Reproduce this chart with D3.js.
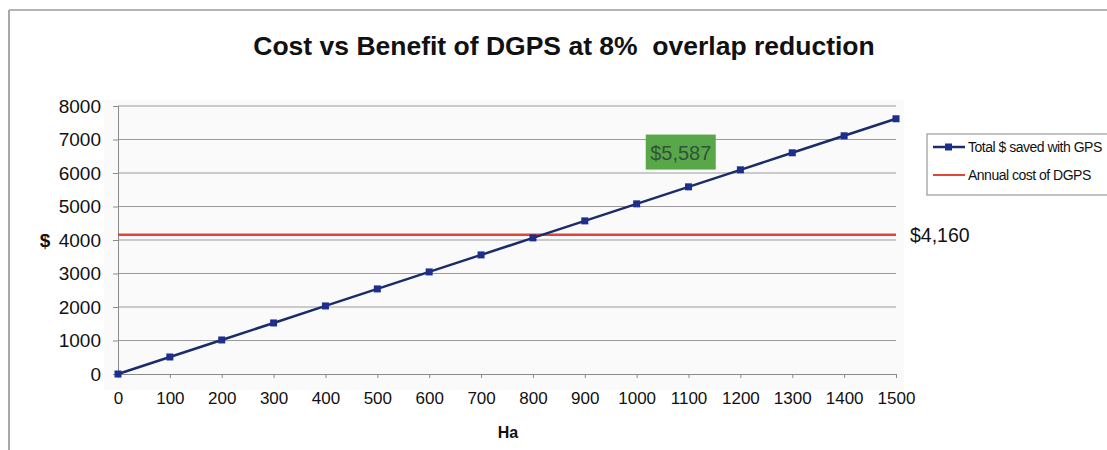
<!DOCTYPE html>
<html><head><meta charset="utf-8">
<script src="https://cdn.jsdelivr.net/npm/d3@7/dist/d3.min.js"></script>
<style>
html,body{margin:0;padding:0;background:#fff;}
svg{display:block;font-family:"Liberation Sans",Arial,sans-serif;}
</style></head>
<body><svg id="c" width="1107" height="450"></svg>
<script>
const hectares = [0,100,200,300,400,500,600,700,800,900,1000,1100,1200,1300,1400,1500];
const savedWithGPS = [0,508,1016,1524,2032,2540,3047,3555,4063,4571,5079,5587,6095,6603,7111,7619];
const annualCostDGPS = 4160;
const yTicks = [0,1000,2000,3000,4000,5000,6000,7000,8000];
const xTicks = hectares;
const titleText = "Cost vs Benefit of DGPS at 8%  overlap reduction";
const seriesNames = ["Total $ saved with GPS","Annual cost of DGPS"];
const costLabel = "$4,160";
const highlightLabel = "$5,587";

const svg = d3.select("#c");
const x = d3.scaleLinear().domain([0,1500]).range([118,896]);
const y = d3.scaleLinear().domain([0,8000]).range([374,106]);

// outer frame
svg.append("line").attr("x1",9).attr("x2",1107).attr("y1",10).attr("y2",10).attr("stroke","#b4b4b4").attr("stroke-width",2);
svg.append("line").attr("x1",9).attr("x2",9).attr("y1",10).attr("y2",450).attr("stroke","#a8a8a8").attr("stroke-width",2);

// plot background
svg.append("rect").attr("x",104).attr("y",100).attr("width",800).attr("height",290).attr("fill","#fafafa");

// title
svg.append("text").attr("x",564).attr("y",55).attr("text-anchor","middle")
  .attr("font-size",26.5).attr("font-weight","bold").attr("fill","#111").attr("xml:space","preserve").text(titleText);

// grid
svg.append("g").selectAll("line").data(yTicks.filter(d=>d>0)).join("line")
  .attr("x1",x(0)).attr("x2",x(1500)).attr("y1",d=>y(d)).attr("y2",d=>y(d))
  .attr("stroke","#9a9a9a").attr("stroke-width",1);

// y axis
const yAxis = svg.append("g").attr("transform",`translate(${x(0)},0)`)
  .call(d3.axisLeft(y).tickValues(yTicks).tickSize(5).tickPadding(12).tickFormat(d3.format("d")));
yAxis.select(".domain").attr("stroke","#8a8a8a");
yAxis.selectAll(".tick line").attr("stroke","#8a8a8a");
yAxis.selectAll("text").attr("font-size",19).attr("fill","#111").attr("font-family","Liberation Sans, Arial, sans-serif");

// x axis
const xAxis = svg.append("g").attr("transform",`translate(0,${y(0)})`)
  .call(d3.axisBottom(x).tickValues(xTicks).tickSize(4).tickPadding(14).tickFormat(d3.format("d")));
xAxis.select(".domain").attr("stroke","#8a8a8a");
xAxis.selectAll(".tick line").attr("stroke","#8a8a8a");
xAxis.selectAll("text").attr("font-size",17).attr("fill","#111").attr("font-family","Liberation Sans, Arial, sans-serif");

// axis titles
svg.append("text").attr("x",45).attr("y",y(4000)+7).attr("text-anchor","middle")
  .attr("font-size",19).attr("font-weight","bold").attr("fill","#111").text("$");
svg.append("text").attr("x",508).attr("y",438).attr("text-anchor","middle")
  .attr("font-size",16).attr("font-weight","bold").attr("fill","#111").text("Ha");

// cost line
svg.append("line").attr("x1",x(0)).attr("x2",x(1500)).attr("y1",y(annualCostDGPS)).attr("y2",y(annualCostDGPS))
  .attr("stroke","#e0453a").attr("stroke-width",2.5);

// savings line
const pts = hectares.map((h,i)=>[h,savedWithGPS[i]]);
svg.append("path").datum(pts).attr("fill","none").attr("stroke","#1b2c6b").attr("stroke-width",2.5)
  .attr("d",d3.line().x(d=>x(d[0])).y(d=>y(d[1])));
svg.append("g").selectAll("rect").data(pts).join("rect")
  .attr("x",d=>x(d[0])-3.5).attr("y",d=>y(d[1])-3.5).attr("width",7).attr("height",7).attr("fill","#1d2f8c");

// labels
svg.append("text").attr("x",910).attr("y",y(annualCostDGPS)+7).attr("font-size",19.5).attr("fill","#111").text(costLabel);
const bx = x(1085), by = y(6610);
svg.append("rect").attr("x",bx-35).attr("y",by-18).attr("width",70).attr("height",35).attr("fill","#58a84a");
svg.append("text").attr("x",bx).attr("y",by+7).attr("text-anchor","middle").attr("font-size",20).attr("fill","#33523a").text(highlightLabel);

// legend
const lg = svg.append("g");
lg.append("rect").attr("x",927).attr("y",134).attr("width",200).attr("height",61).attr("fill","#fff").attr("stroke","#999").attr("stroke-width",1.2);
const ly = [147,175];
lg.append("line").attr("x1",933).attr("x2",965).attr("y1",ly[0]).attr("y2",ly[0]).attr("stroke","#1b2c6b").attr("stroke-width",2.5);
lg.append("rect").attr("x",945).attr("y",ly[0]-3.5).attr("width",7).attr("height",7).attr("fill","#1d2f8c");
lg.append("line").attr("x1",933).attr("x2",965).attr("y1",ly[1]).attr("y2",ly[1]).attr("stroke","#e0453a").attr("stroke-width",2);
lg.selectAll("text").data(seriesNames).join("text")
  .attr("x",968).attr("y",(d,i)=>ly[i]+5).attr("font-size",14).attr("letter-spacing",-0.5).attr("fill","#111").text(d=>d);
</script></body></html>
